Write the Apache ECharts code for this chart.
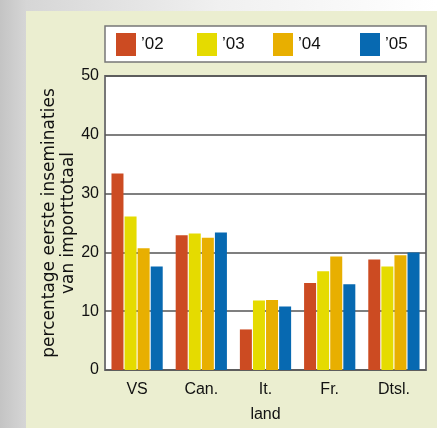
<!DOCTYPE html>
<html><head><meta charset="utf-8">
<script src="https://cdn.jsdelivr.net/npm/echarts@6/dist/echarts.min.js"></script>
<style>html,body{margin:0;padding:0;}#c{width:437px;height:428px;}</style>
</head><body><div id="c"></div>
<script>
const categories = ['VS', 'Can.', 'It.', 'Fr.', 'Dtsl.'];
const seriesNames = ['\u201902', '\u201903', '\u201904', '\u201905'];
const v02 = [33.4, 22.9, 6.9, 14.8, 18.8];
const v03 = [26.1, 23.2, 11.8, 16.8, 17.6];
const v04 = [20.7, 22.5, 11.9, 19.3, 19.5];
const v05 = [17.6, 23.4, 10.8, 14.6, 20.0];
const colors = ['#CC4B22', '#E5DB00', '#E8AF00', '#0769B1'];
const values = [v02, v03, v04, v05];
const legendLeft = [116, 197, 273, 360];

const font = 'Liberation Sans, Arial, sans-serif';
const chart = echarts.init(document.getElementById('c'));
chart.setOption({
  animation: false,
  textStyle: {fontFamily: font},
  graphic: [
    {type: 'rect', z: -10, shape: {x: 0, y: 0, width: 437, height: 428},
     style: {fill: new echarts.graphic.LinearGradient(0, 0, 1, 0, [
       {offset: 0, color: '#c4c4c4'}, {offset: 0.06, color: '#d6d6d6'}, {offset: 0.5, color: '#f0f0f0'}, {offset: 1, color: '#ffffff'}])}},
    {type: 'rect', z: -9, shape: {x: 26, y: 11, width: 411, height: 417}, style: {fill: '#EBEED0'}},
    {type: 'rect', z: -8, shape: {x: 105, y: 26, width: 321, height: 36}, style: {fill: '#ffffff', stroke: '#777777', lineWidth: 1.5}}
  ],
  legend: seriesNames.map((n, i) => ({
    data: [n], left: legendLeft[i], top: 33, itemWidth: 20, itemHeight: 23,
    itemGap: 0, padding: 0, selectedMode: false, icon: 'rect',
    textStyle: {fontSize: 17, color: '#111', fontFamily: font}
  })),
  grid: {left: 105, width: 321, top: 76, height: 297, show: true, backgroundColor: '#ffffff', borderColor: '#777777', borderWidth: 2},
  xAxis: {
    type: 'category', data: categories,
    axisLine: {show: false}, axisTick: {show: false},
    axisLabel: {fontSize: 16, color: '#111', margin: 12, fontFamily: font},
    name: 'land', nameLocation: 'middle', nameGap: 37,
    nameTextStyle: {fontSize: 16, color: '#111', fontFamily: font}
  },
  yAxis: {
    type: 'value', min: 0, max: 50, interval: 10,
    axisLine: {show: false}, axisTick: {show: false},
    axisLabel: {fontSize: 16, color: '#111', margin: 6, fontFamily: font},
    splitLine: {lineStyle: {color: '#555555', width: 1.5}},
    name: 'percentage eerste inseminaties\nvan importtotaal', nameLocation: 'middle', nameGap: 27,
    nameMoveOverlap: false,
    nameTextStyle: {fontSize: 17, color: '#111', lineHeight: 19, fontFamily: 'DejaVu Sans, sans-serif'}
  },
  series: seriesNames.map((n, i) => ({
    name: n, type: 'bar', data: values[i], barWidth: 12, barGap: '9%',
    itemStyle: {color: colors[i]}
  }))
});
</script></body></html>
